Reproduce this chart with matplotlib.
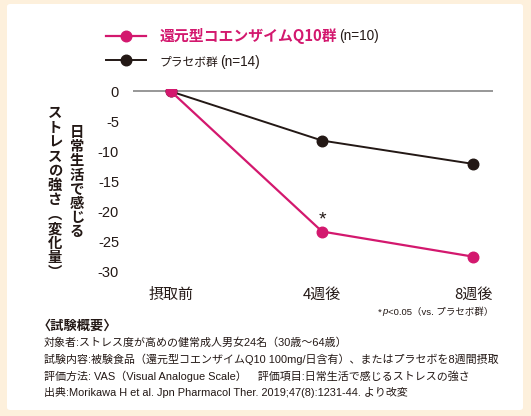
import matplotlib
matplotlib.use("Agg")
import matplotlib.pyplot as plt
from matplotlib.patches import FancyBboxPatch
from matplotlib.lines import Line2D
from matplotlib.text import Annotation

# ---- data ----
categories = ["摂取前", "4週後", "8週後"]
q10_values = [0, -23.4, -27.6]
placebo_values = [0, -8.2, -12.1]
yticks = [0, -5, -10, -15, -20, -25, -30]
ytick_labels = ["0", "-5", "-10", "-15", "-20", "-25", "-30"]
q10_label = "還元型コエンザイムQ10群"
q10_n = "(n=10)"
placebo_label = "プラセボ群"
placebo_n = "(n=14)"
ylabel_col1 = ["ス", "ト", "レ", "ス", "の", "強", "さ", "︵", "変", "化", "量", "︶"]
ylabel_col2 = ["日", "常", "生", "活", "で", "感", "じ", "る"]
sig_mark = "*"
note_lines = [
    "対象者:ストレス度が高めの健常成人男女24名（30歳〜64歳）",
    "試験内容:被験食品（還元型コエンザイムQ10 100mg/日含有）、またはプラセボを8週間摂取",
    "評価方法: VAS（Visual Analogue Scale）　評価項目:日常生活で感じるストレスの強さ",
    "出典:Morikawa H et al. Jpn Pharmacol Ther. 2019;47(8):1231-44. より改変",
]

PINK = "#D3186E"
BLACK = "#231815"
GRAY = "#7a7a7a"
CREAM = "#FDF0DC"
FAM = ["Liberation Sans", "Noto Sans CJK JP"]
JFAM = ["Noto Sans CJK JP", "DejaVu Sans"]

W, H = 531, 416
fig = plt.figure(figsize=(W / 100, H / 100), dpi=100, facecolor=CREAM)

def fx(px):
    return px / W

def fy(py):
    return 1 - py / H

# white inner panel
panel = FancyBboxPatch((fx(7), fy(410)), fx(523) - fx(7), fy(4) - fy(410),
                       boxstyle="round,pad=0,rounding_size=0.006",
                       transform=fig.transFigure, facecolor="white",
                       edgecolor="none", zorder=-10)
fig.patches.append(panel)

ax = fig.add_axes([fx(133), fy(274), fx(493) - fx(133), fy(88.5) - fy(274)])
ax.set_zorder(1)
ax.set_facecolor("none")
ax.set_xlim(-0.252, 2.132)
ax.set_ylim(-30.5, 0.5)
for s in ax.spines.values():
    s.set_visible(False)

MS = 7.6
ax.axhline(0, color=GRAY, lw=1.1, zorder=1)
x = list(range(len(categories)))
lp, = ax.plot(x, placebo_values, color=BLACK, lw=1.4, marker="o", ms=MS, zorder=3)
lq, = ax.plot(x, q10_values, color=PINK, lw=1.6, marker="o", ms=MS, zorder=4)

ax.set_yticks(yticks)
ax.set_yticklabels(ytick_labels, fontsize=10.5, family=FAM, color=BLACK)
ax.set_xticks(x)
ax.set_xticklabels(categories, fontsize=10.8, family=JFAM, color=BLACK)
ax.tick_params(axis="y", length=0, pad=10)
ax.tick_params(axis="x", length=0, pad=10)

# significance asterisk
ax.annotate(sig_mark, xy=(1, q10_values[1]), xytext=(0, 2), textcoords="offset points",
            ha="center", va="bottom", fontsize=14, color=BLACK, family=FAM)

# legend
hq = Line2D([], [], color=PINK, lw=1.6, marker="o", ms=MS)
hp = Line2D([], [], color=BLACK, lw=1.4, marker="o", ms=MS)
leg = fig.legend([hq, hp], [q10_label, placebo_label], loc="upper left",
                 bbox_to_anchor=(fx(106), fy(28)), frameon=False,
                 handlelength=2.7, handletextpad=0.9, labelspacing=0.75,
                 borderpad=0, borderaxespad=0, prop={"family": JFAM, "size": 10.7})
leg.set_zorder(5)
t1, t2 = leg.get_texts()
t1.set_color(PINK)
t1.set_fontweight("bold")
t2.set_color(BLACK)
t2.set_fontsize(8.5)
for t, s in ((t1, q10_n), (t2, placebo_n)):
    a = Annotation(s, xy=(1, 0.5), xycoords=t, xytext=(1.5, 0), textcoords="offset points",
                   ha="left", va="center", fontsize=9.8, color=BLACK, family=FAM)
    a.set_zorder(10)
    fig.add_artist(a)

# vertical y-label columns
def vcol(chars, xc, ytop, step, size):
    for i, c in enumerate(chars):
        fig.text(fx(xc), fy(ytop + step * (i + 0.5)), c, ha="center", va="center",
                 fontsize=size, fontweight="bold", color=BLACK, family=JFAM)

vcol(ylabel_col1, 55, 106, 14.5, 10.3)
vcol(ylabel_col2, 77, 126, 14.2, 10.3)

# p-value note (right aligned)
pn = fig.text(fx(493), fy(312), "<0.05（vs. プラセボ群）", ha="right", va="center",
              fontsize=6.8, color=BLACK, family=FAM)
pp = Annotation("p", xy=(0, 0.5), xycoords=pn, xytext=(-0.3, 0), textcoords="offset points",
                ha="right", va="center", fontsize=6.8, style="italic", color=BLACK, family=FAM)
pp.set_zorder(10)
fig.add_artist(pp)
ps = Annotation("*", xy=(0, 0.5), xycoords=pp, xytext=(0, 0), textcoords="offset points",
                ha="right", va="center", fontsize=6.8, color=BLACK, family=FAM)
ps.set_zorder(11)
fig.add_artist(ps)

# study summary
fig.text(fx(38), fy(326), "〈試験概要〉", ha="left", va="center", fontsize=9.5,
         fontweight="bold", color=BLACK, family=JFAM)
for i, line in enumerate(note_lines):
    fig.text(fx(44), fy(343 + 16.4 * i), line, ha="left", va="center",
             fontsize=7.9, color=BLACK, family=FAM)

fig.savefig("out.png", dpi=100, facecolor=CREAM)
